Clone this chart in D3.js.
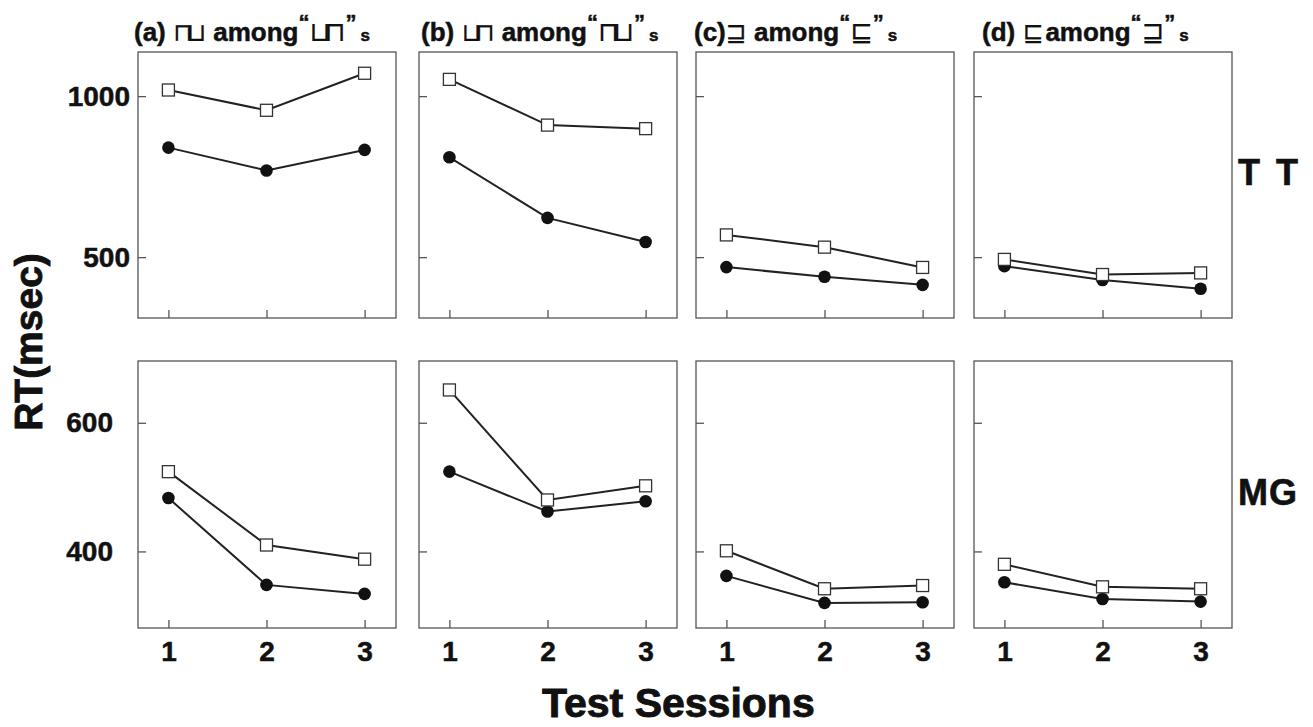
<!DOCTYPE html>
<html lang="en">
<head>
<meta charset="UTF-8">
<title>RT by test session</title>
<script src="https://cdn.jsdelivr.net/npm/d3@7"></script>
<style>
  body { margin: 0; background: #fff; }
  svg text { font-family: "Liberation Sans", Arial, sans-serif; font-weight: bold; fill: #111; }
  .glyph { font-family: "DejaVu Sans"; font-weight: normal; }
  .heavy { stroke: #111; stroke-width: 0.9; }
</style>
</head>
<body>
<div id="chart"></div>
<script>
var sessions = [1, 2, 3];
var panelLetters = ['(a) ', '(b) ', '(c)', '(d) '];
var targets = ['⊓⊔', '⊔⊓', '⊒', '⊑'];
var distractors = ['⊔⊓', '⊓⊔', '⊑', '⊒'];
var rowLabels = ['T T', 'MG'];
var ttTicks = [500, 1000];
var mgTicks = [400, 600];
// open squares / filled circles, sessions 1-3 for each panel (a)-(d)
var ttSquares = [[1019, 956, 1071], [1052, 910, 899], [569, 531, 468], [493, 446, 451]];
var ttCircles = [[840, 769, 833], [810, 622, 547], [469, 439, 414], [472, 429, 402]];
var mgSquares = [[524, 410, 388], [651, 480, 502], [401, 342, 347], [380, 345, 342]];
var mgCircles = [[483, 348, 334], [524, 462, 478], [362, 320, 321], [352, 326, 322]];

var w = 1313, h = 727;
var lefts = [138, 419, 696, 974], pw = 258;
var titleShift = [-4, 2, -2, 8];
var rows = [
    { top: 52, bottom: 318, domain: [311, 1137], ticks: ttTicks, sq: ttSquares, ci: ttCircles, pad: 8, labelY: 185 },
    { top: 361, bottom: 628, domain: [281, 696], ticks: mgTicks, sq: mgSquares, ci: mgCircles, pad: 25, labelY: 505 }
];

var svg = d3.select('#chart').append('svg')
    .attr('width', w)
    .attr('height', h);

var x = d3.scaleLinear().domain([0.69, 3.32]).range([0, pw]);

rows.forEach(function (row, r) {
    var ph = row.bottom - row.top;
    var y = d3.scaleLinear().domain(row.domain).range([ph, 0]);

    lefts.forEach(function (left, i) {
        var g = svg.append('g').attr('transform', 'translate(' + left + ',' + row.top + ')');

        g.append('rect')
            .attr('width', pw).attr('height', ph)
            .attr('fill', 'none').attr('stroke', '#555').attr('stroke-width', 1.3);

        var ya = g.append('g').call(d3.axisLeft(y)
            .tickValues(row.ticks)
            .tickSizeInner(-8).tickSizeOuter(0)
            .tickPadding(row.pad)
            .tickFormat(i == 0 ? d3.format('d') : ''));
        ya.select('.domain').remove();
        ya.selectAll('line').attr('stroke', '#555').attr('stroke-width', 1.3);
        ya.selectAll('text').attr('font-size', 28).attr('font-family', null).attr('fill', '#111')
            .attr('stroke', '#111').attr('stroke-width', 0.5);

        var xa = g.append('g').attr('transform', 'translate(0,' + ph + ')')
            .call(d3.axisBottom(x)
                .tickValues(sessions)
                .tickSizeInner(-8).tickSizeOuter(0)
                .tickPadding(13)
                .tickFormat(r == 1 ? d3.format('d') : ''));
        xa.select('.domain').remove();
        xa.selectAll('line').attr('stroke', '#555').attr('stroke-width', 1.3);
        xa.selectAll('text').attr('font-size', 28).attr('font-family', null).attr('fill', '#111')
            .attr('stroke', '#111').attr('stroke-width', 0.5);

        var line = d3.line()
            .x(function (d, j) { return x(sessions[j]); })
            .y(function (d) { return y(d); });

        [row.sq[i], row.ci[i]].forEach(function (s) {
            g.append('path').datum(s)
                .attr('d', line)
                .attr('fill', 'none').attr('stroke', '#222').attr('stroke-width', 2);
        });

        g.selectAll('circle').data(row.ci[i]).enter().append('circle')
            .attr('cx', function (d, j) { return x(sessions[j]); })
            .attr('cy', function (d) { return y(d); })
            .attr('r', 6.3)
            .attr('fill', '#111');

        g.selectAll('rect.sq').data(row.sq[i]).enter().append('rect')
            .attr('class', 'sq')
            .attr('x', function (d, j) { return x(sessions[j]) - 6; })
            .attr('y', function (d) { return y(d) - 6; })
            .attr('width', 12).attr('height', 12)
            .attr('fill', '#fff').attr('stroke', '#333').attr('stroke-width', 1.3);

        // panel titles on the top row
        if (r == 0) {
            var t = svg.append('text').attr('x', left + titleShift[i]).attr('y', 41)
                .attr('font-size', 26).attr('stroke', '#111').attr('stroke-width', 0.5);
            var ls = targets[i].length > 1 ? -6 : 0;
            t.append('tspan').text(panelLetters[i]);
            t.append('tspan').attr('class', 'glyph').attr('font-size', 25)
                .attr('stroke-width', 0.2).attr('letter-spacing', ls).text(targets[i]);
            t.append('tspan').attr('dx', -ls + (i == 3 ? 2 : 0)).text(i == 3 ? 'among' : ' among');
            t.append('tspan').attr('font-size', 22).attr('dy', -11).text('\u201C');
            t.append('tspan').attr('class', 'glyph').attr('font-size', 27).attr('dy', 11)
                .attr('stroke-width', 0.2).attr('letter-spacing', ls).text(distractors[i]);
            t.append('tspan').attr('font-size', 22).attr('dx', -ls).attr('dy', -11).text('\u201D');
            t.append('tspan').attr('font-size', 17).attr('dy', 11).attr('dx', 4).text('s');
        }
    });

    svg.append('text')
        .attr('x', 1238).attr('y', row.labelY)
        .attr('font-size', 36)
        .attr('letter-spacing', r == 0 ? 3 : 1)
        .attr('stroke', '#111').attr('stroke-width', 0.6)
        .text(rowLabels[r]);
});

svg.append('text')
    .attr('class', 'heavy')
    .attr('transform', 'translate(42,342) rotate(-90)')
    .attr('text-anchor', 'middle')
    .attr('font-size', 39)
    .text('RT(msec)');

svg.append('text')
    .attr('class', 'heavy')
    .attr('x', 542).attr('y', 717)
    .attr('font-size', 41)
    .text('Test Sessions');
</script>
</body>
</html>
